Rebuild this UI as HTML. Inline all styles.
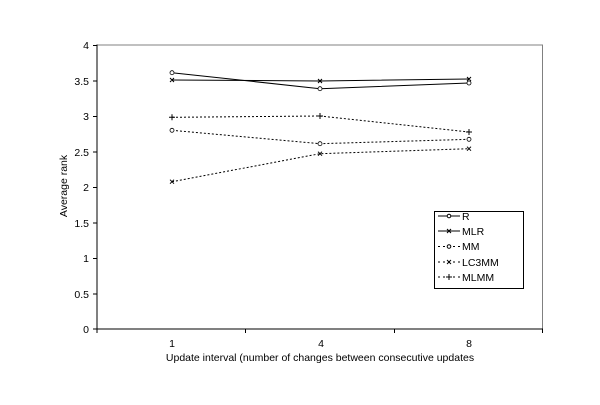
<!DOCTYPE html>
<html><head><meta charset="utf-8"><style>
html,body{margin:0;padding:0;background:#fff;width:600px;height:405px;overflow:hidden}
text{font-family:"Liberation Sans",sans-serif;font-size:10.5px;fill:#000}
</style></head><body>
<svg width="600" height="405" viewBox="0 0 600 405" xmlns="http://www.w3.org/2000/svg">
<polyline points="97,45 542.5,45 542.5,329" fill="none" stroke="#808080" stroke-width="1"/>
<line x1="97" y1="44.5" x2="97" y2="329.5" stroke="#000"/>
<line x1="97" y1="329" x2="543" y2="329" stroke="#000"/>
<g stroke="#000">
<line x1="93" y1="45.5" x2="97" y2="45.5"/><line x1="93" y1="81" x2="97" y2="81"/>
<line x1="93" y1="116.5" x2="97" y2="116.5"/><line x1="93" y1="152" x2="97" y2="152"/>
<line x1="93" y1="187.5" x2="97" y2="187.5"/><line x1="93" y1="223" x2="97" y2="223"/>
<line x1="93" y1="258.5" x2="97" y2="258.5"/><line x1="93" y1="294" x2="97" y2="294"/>
<line x1="93" y1="329" x2="97" y2="329"/>
<line x1="97" y1="329" x2="97" y2="333"/><line x1="245.5" y1="329" x2="245.5" y2="333"/>
<line x1="394.5" y1="329" x2="394.5" y2="333"/><line x1="542.5" y1="329" x2="542.5" y2="333"/>
</g>
<g text-anchor="end">
<text x="89" y="49">4</text><text x="89" y="85">3.5</text><text x="89" y="120">3</text>
<text x="89" y="156">2.5</text><text x="89" y="191">2</text><text x="89" y="227">1.5</text>
<text x="89" y="262">1</text><text x="89" y="298">0.5</text><text x="89" y="333">0</text>
</g>
<g text-anchor="middle">
<text x="172" y="347">1</text><text x="321" y="347">4</text><text x="469" y="347">8</text>
<text x="320" y="361">Update interval (number of changes between consecutive updates</text>
<text transform="translate(67,186) rotate(-90)">Average rank</text>
</g>
<g fill="none" stroke="#000" stroke-width="1">
<polyline points="172,72.7 320,88.7 469,83"/>
<polyline points="172,80 320,81 469,79"/>
<polyline stroke-dasharray="2,2" points="172,130.3 320,143.7 469,139.3"/>
<polyline stroke-dasharray="2,2" points="172,181.7 320,153.7 469,148.7"/>
<polyline stroke-dasharray="2,2" points="172,117.3 320,116 469,132"/>
</g>
<g fill="#fff" stroke="#000" stroke-width="0.8">
<circle cx="172" cy="72.7" r="2"/><circle cx="320" cy="88.7" r="2"/><circle cx="469" cy="83" r="2"/>
<circle cx="172" cy="130.3" r="2"/><circle cx="320" cy="143.7" r="2"/><circle cx="469" cy="139.3" r="2"/>
</g>
<g stroke="#000" stroke-width="1">
<path d="M170,78l4,4M174,78l-4,4M318,79l4,4M322,79l-4,4M467,77l4,4M471,77l-4,4"/>
<path d="M170,179.7l4,4M174,179.7l-4,4M318,151.7l4,4M322,151.7l-4,4M467,146.7l4,4M471,146.7l-4,4"/>
<path d="M169,117.3h6M172,114.3v6M317,116h6M320,113v6M466,132h6M469,129v6"/>
</g>
<rect x="434.5" y="211.5" width="89" height="77" fill="#fff" stroke="#000"/>
<g stroke="#000" fill="none">
<line x1="438" y1="216" x2="460" y2="216"/>
<line x1="438" y1="231" x2="460" y2="231"/>
<line x1="438" y1="246.5" x2="460" y2="246.5" stroke-dasharray="2,3"/>
<line x1="438" y1="262" x2="460" y2="262" stroke-dasharray="2,3"/>
<line x1="438" y1="277" x2="460" y2="277" stroke-dasharray="2,3"/>
<circle cx="449" cy="216" r="1.8" fill="#fff"/>
<circle cx="449" cy="246.5" r="1.8" fill="#fff"/>
<path d="M447,229l4,4M451,229l-4,4M447,260l4,4M451,260l-4,4M446,277h6M449,274v6"/>
</g>
<text x="462" y="220">R</text><text x="462" y="235">MLR</text><text x="462" y="250">MM</text>
<text x="462" y="266">LC3MM</text><text x="462" y="281">MLMM</text>
</svg>
</body></html>
